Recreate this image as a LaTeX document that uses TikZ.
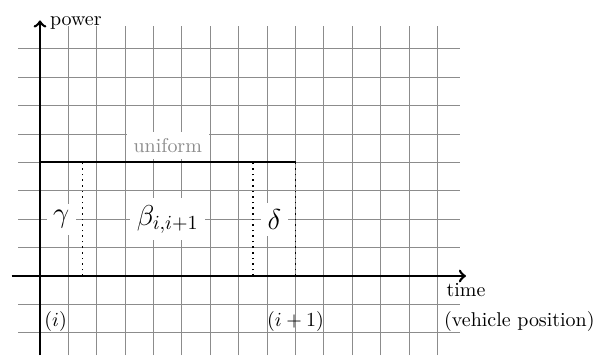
\documentclass[tikz,border=0pt]{standalone}
\begin{document}
\begin{tikzpicture}[x=0.5cm,y=0.5cm,
  gridline/.style={black!45,line width=0.5pt},
  axis/.style={->,line width=1.3pt},
  boxline/.style={line width=1pt},
  sep/.style={dotted,line width=0.8pt},
  biglabel/.style={fill=white,font=\Large},
  graylabel/.style={fill=white,text=black!45},
  plain/.style={inner sep=2pt}]
\useasboundingbox (-1.408,-2.782) rectangle (19.648,9.718);
\draw[gridline,step=0.5cm] (-0.77,-2.782) grid (14.8,8.8);
% box
\coordinate (o) at (0,0);
\coordinate (tl) at (0,4);
\coordinate (tr) at (9,4);
\coordinate (br) at (9,0);
\coordinate (a1) at (1.5,0);
\coordinate (a2) at (1.5,4);
\coordinate (b1) at (7.5,0);
\coordinate (b2) at (7.5,4);
\draw[boxline] (tl) -- (tr);
\draw[sep] (a1) -- (a2);
\draw[sep] (b1) -- (b2);
\draw[sep] (br) -- (tr);
% labels
\node[graylabel] (uni) at (4.5,4.6) {uniform};
\node[biglabel] (g) at (0.75,2) {$\gamma$};
\node[biglabel] (b) at (4.5,2) {$\beta_{i,i+1}$};
\node[biglabel] (d) at (8.25,2) {$\delta$};
% axes
\coordinate (xs) at (-1,0);
\coordinate (xe) at (15,0);
\coordinate (ys) at (0,-2.782);
\coordinate (ye) at (0,9);
\draw[axis] (xs) -- (xe);
\draw[axis] (ys) -- (ye);
\node[below] (time) at (xe) {time};
\node[anchor=west,inner sep=2pt] (pow) at (0.2,8.92) {power};
\node[plain] (pi) at (0.55,-1.6) {$(i)$};
\node[plain] (pi1) at (9,-1.6) {$(i+1)$};
\node[plain] (veh) at (16.88,-1.6) {(vehicle position)};
\end{tikzpicture}
\end{document}
